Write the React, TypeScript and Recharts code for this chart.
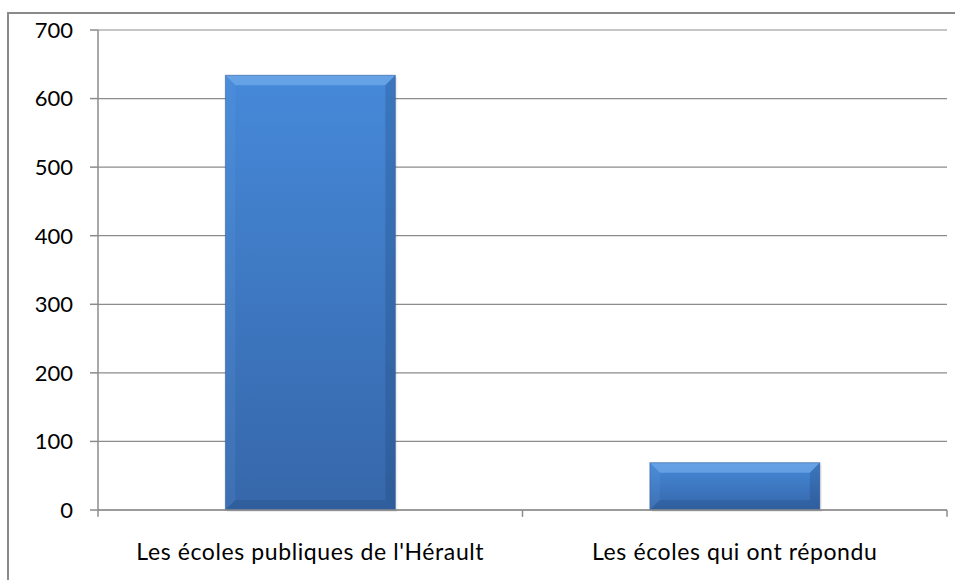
import React from 'react';
import { BarChart, Bar, XAxis, YAxis, CartesianGrid, ReferenceLine } from 'recharts';

document.body.style.margin = '0';

const categories = ["Les écoles publiques de l'Hérault", 'Les écoles qui ont répondu'];
const values = [634, 69];
const yTicks = [0, 100, 200, 300, 400, 500, 600, 700];
const boundaryTicks = [0, 1, 2];

const data = categories.map((name, i) => ({ name, value: values[i], pos: i + 0.5 }));

const FONT = 'Lato, "Open Sans", sans-serif';

// Excel-ish bevelled bar
const BevelBar = (props: any) => {
  const { x, y, width, height, index } = props;
  if (!height || height <= 0) return null;
  const b = Math.min(10, width / 4, height / 3);
  const id = `barGrad${index}`;
  return (
    <g>
      <defs>
        <linearGradient id={id} x1="0" y1="0" x2="0" y2="1">
          <stop offset="0%" stopColor="#4689d9" />
          <stop offset="100%" stopColor="#3667aa" />
        </linearGradient>
      </defs>
      <rect x={x + 2} y={y + 2} width={width} height={height} fill="#000" opacity={0.07} />
      <rect x={x} y={y} width={width} height={height} fill={`url(#${id})`} />
      <polygon
        points={`${x},${y} ${x + width},${y} ${x + width - b},${y + b} ${x + b},${y + b}`}
        fill="#8cc0f6"
        opacity={0.45}
      />
      <polygon
        points={`${x},${y} ${x + b},${y + b} ${x + b},${y + height - b} ${x},${y + height}`}
        fill="#6ea6e6"
        opacity={0.15}
      />
      <polygon
        points={`${x + width},${y} ${x + width},${y + height} ${x + width - b},${y + height - b} ${x + width - b},${y + b}`}
        fill="#1d3f70"
        opacity={0.25}
      />
      <polygon
        points={`${x},${y + height} ${x + width},${y + height} ${x + width - b},${y + height - b} ${x + b},${y + height - b}`}
        fill="#1d3f70"
        opacity={0.22}
      />
      <rect x={x} y={y} width={width} height={height} fill="none" stroke="#2d568f" strokeOpacity={0.5} strokeWidth={1} />
    </g>
  );
};

export default function App() {
  return (
    <div style={{ position: 'relative', width: 955, height: 580, overflow: 'hidden', background: '#fff' }}>
      <div
        style={{
          position: 'absolute',
          left: 7,
          top: 12,
          width: 980,
          height: 600,
          border: '2px solid #8a8a8a',
          boxSizing: 'border-box',
        }}
      />
      <div style={{ position: 'absolute', left: 0, top: 0 }}>
        <BarChart
          width={955}
          height={580}
          data={data}
          margin={{ top: 30, right: 8, bottom: 0, left: 0 }}
          barCategoryGap="30%"
        >
          <CartesianGrid vertical={false} stroke="#8c8c8c" strokeWidth={1.2} />
          <XAxis
            dataKey="name"
            xAxisId="cat"
            height={70}
            tickLine={false}
            axisLine={{ stroke: '#8c8c8c', strokeWidth: 1.5 }}
            tickSize={0}
            tickMargin={34}
            interval={0}
            tick={{ fill: '#000', fontSize: 23, fontFamily: FONT, letterSpacing: 0.6 }}
          />
          <XAxis dataKey="pos" xAxisId="edge" type="number" domain={[0, 2]} ticks={boundaryTicks} hide />
          <YAxis
            width={98}
            domain={[0, 700]}
            ticks={yTicks}
            interval={0}
            tickSize={8}
            tickMargin={17}
            axisLine={{ stroke: '#8c8c8c', strokeWidth: 1.5 }}
            tickLine={{ stroke: '#8c8c8c', strokeWidth: 1.5 }}
            tick={{ fill: '#000', fontSize: 22, fontFamily: FONT }}
          />
          <Bar dataKey="value" xAxisId="cat" shape={<BevelBar />} isAnimationActive={false} />
          {boundaryTicks.map((t) => (
            <ReferenceLine
              key={t}
              xAxisId="edge"
              segment={[
                { x: t, y: 0 },
                { x: t, y: -10 },
              ]}
              ifOverflow="visible"
              stroke="#8c8c8c"
              strokeWidth={1.5}
            />
          ))}
        </BarChart>
      </div>
    </div>
  );
}
